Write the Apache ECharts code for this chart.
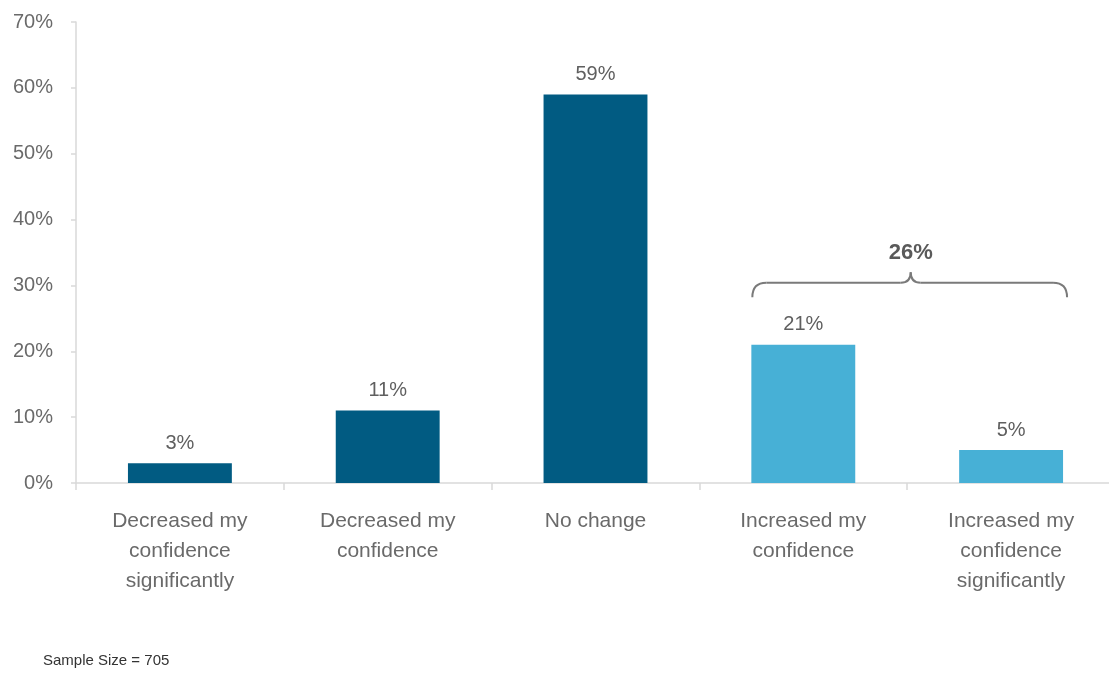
<!DOCTYPE html>
<html>
<head>
<meta charset="utf-8">
<script src="https://cdn.jsdelivr.net/npm/echarts@6/dist/echarts.min.js"></script>
<style>
  html, body { margin: 0; padding: 0; background: #ffffff; }
  #chart { width: 1109px; height: 679px; }
</style>
</head>
<body>
<div id="chart"></div>
<script>
// Survey answers: effect on confidence
const categories = [
  'Decreased my\nconfidence\nsignificantly',
  'Decreased my\nconfidence',
  'No change',
  'Increased my\nconfidence',
  'Increased my\nconfidence\nsignificantly'
];
const shares = [3, 11, 59, 21, 5];          // percent of respondents
const increasedIdx = [3, 4];                // answers grouped under the brace
const increasedTotal = 26;                  // combined share of the grouped answers
const yTicks = [0, 10, 20, 30, 40, 50, 60, 70];
const sampleNote = 'Sample Size = 705';

const FONT = "'Liberation Sans', Arial, sans-serif";
const DARK = '#015b82';
const LIGHT = '#47b0d6';
const AXIS_GREY = '#d9d9d9';
const BRACE_GREY = '#7a7a7a';

const chart = echarts.init(document.getElementById('chart'), null, { renderer: 'canvas' });

const option = {
  animation: false,
  backgroundColor: '#ffffff',
  textStyle: { fontFamily: FONT },
  grid: { left: 76, top: 22, width: 1039, height: 461, outerBoundsMode: 'none', containLabel: false },
  xAxis: {
    type: 'category',
    data: categories,
    axisLine: { lineStyle: { color: AXIS_GREY, width: 1.5 } },
    axisTick: { show: true, length: 7, lineStyle: { color: AXIS_GREY, width: 1.5 } },
    axisLabel: {
      interval: 0, margin: 23, color: '#6a6a6a', fontSize: 21,
      lineHeight: 30, fontFamily: FONT, align: 'center'
    }
  },
  yAxis: {
    type: 'value',
    min: yTicks[0],
    max: yTicks[yTicks.length - 1],
    interval: yTicks[1] - yTicks[0],
    splitLine: { show: false },
    axisLine: { show: true, lineStyle: { color: AXIS_GREY, width: 1.5 } },
    axisTick: { show: true, length: 5, lineStyle: { color: AXIS_GREY, width: 1.5 } },
    axisLabel: {
      margin: 23, color: '#6a6a6a', fontSize: 20, fontFamily: FONT,
      formatter: v => v + '%'
    }
  },
  series: [{
    type: 'bar',
    data: shares,
    barWidth: '50%',
    itemStyle: {
      color: p => (increasedIdx.indexOf(p.dataIndex) >= 0 ? LIGHT : DARK)
    },
    label: {
      show: true, position: 'top', distance: 10,
      color: '#5f5f5f', fontSize: 20, fontFamily: FONT,
      formatter: p => p.value + '%'
    }
  }]
};

chart.setOption(option);

// Brace spanning the "increased" answers, placed through the axis scales
const first = increasedIdx[0], last = increasedIdx[increasedIdx.length - 1];
const cFirst = chart.convertToPixel({ xAxisIndex: 0 }, first);
const cLast = chart.convertToPixel({ xAxisIndex: 0 }, last);
const band = chart.convertToPixel({ xAxisIndex: 0 }, 1) - chart.convertToPixel({ xAxisIndex: 0 }, 0);
const xL = cFirst - band / 4 + 1;
const xR = cLast + band / 4 + 4;
const xm = xL + (xR - xL) * 0.5 + 1;
const yEnd = chart.convertToPixel({ yAxisIndex: 0 }, 28.2);
const yH = chart.convertToPixel({ yAxisIndex: 0 }, 30.4);
const yTip = chart.convertToPixel({ yAxisIndex: 0 }, 32.0);
const yText = chart.convertToPixel({ yAxisIndex: 0 }, 34.9);

const braceStyle = { fill: null, stroke: BRACE_GREY, lineWidth: 2 };
const curve = (x1, y1, cx, cy, x2, y2) => ({
  type: 'bezierCurve',
  shape: { x1: x1, y1: y1, cpx1: cx, cpy1: cy, x2: x2, y2: y2 },
  style: braceStyle
});
const straight = (x1, y1, x2, y2) => ({
  type: 'line',
  shape: { x1: x1, y1: y1, x2: x2, y2: y2 },
  style: braceStyle
});

chart.setOption({
  graphic: [
    curve(xL, yEnd, xL, yH, xL + 14, yH),
    straight(xL + 14, yH, xm - 10, yH),
    curve(xm - 10, yH, xm, yH, xm, yTip),
    curve(xm, yTip, xm, yH, xm + 10, yH),
    straight(xm + 10, yH, xR - 14, yH),
    curve(xR - 14, yH, xR, yH, xR, yEnd),
    {
      type: 'text',
      x: xm, y: yText,
      style: {
        text: increasedTotal + '%',
        font: 'bold 22px ' + FONT,
        fill: '#5a5a5a',
        align: 'center',
        verticalAlign: 'middle'
      }
    },
    {
      type: 'text',
      left: 43, top: 653,
      style: {
        text: sampleNote,
        font: '15px ' + FONT,
        fill: '#333333'
      }
    }
  ]
});
</script>
</body>
</html>
